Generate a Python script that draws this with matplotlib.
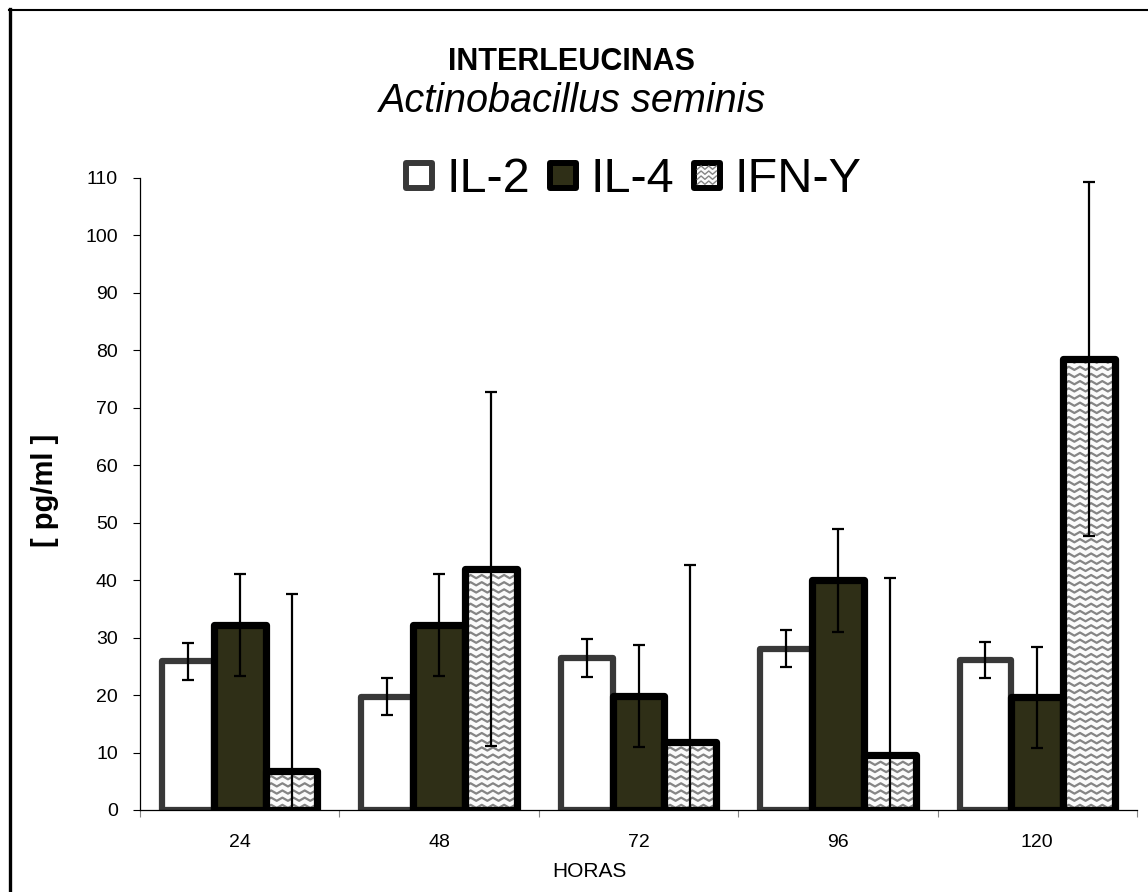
import numpy as np
import matplotlib.pyplot as plt
from matplotlib.patches import Rectangle
from matplotlib.collections import LineCollection
from matplotlib.lines import Line2D
from matplotlib.legend_handler import HandlerPatch

# data (pg/ml, mean and error bar half-length)
horas = ["24", "48", "72", "96", "120"]
series = ["IL-2", "IL-4", "IFN-Y"]
il2 = [25.85, 19.75, 26.5, 28.1, 26.1]
il2_err = [3.3, 3.3, 3.3, 3.2, 3.1]
il4 = [32.25, 32.25, 19.85, 39.95, 19.65]
il4_err = [8.9, 8.9, 8.9, 8.9, 8.8]
ifn = [6.8, 41.95, 11.8, 9.6, 78.5]
ifn_err = [30.8, 30.8, 30.8, 30.8, 30.8]

plt.rcParams["font.family"] = ["Liberation Sans", "DejaVu Sans"]

W, H = 1148, 892
IL4_COLOR = "#2f2f17"
WAVE_COLOR = "#858585"


def zigzag_segments(x0, x1, y0, y1, period, amp, gap):
    """Rows of zigzag lines covering a box (texture only)."""
    xs = np.arange(x0 - period, x1 + period, period / 2)
    sign = np.where(np.arange(len(xs)) % 2 == 0, -1.0, 1.0)
    segs = []
    for yc in np.arange(y0 + gap / 2, y1 + gap, gap):
        segs.append(np.column_stack([xs, yc + amp * sign]))
    return segs


class SquareHandler(HandlerPatch):
    def __init__(self, wave=False):
        super().__init__()
        self.wave = wave

    def create_artists(self, legend, orig_handle, xdescent, ydescent,
                       width, height, fontsize, trans):
        side = width
        x0 = -xdescent
        y0 = -ydescent + (height - side) / 2
        rect = Rectangle((x0, y0), side, side,
                         facecolor=orig_handle.get_facecolor(),
                         edgecolor=orig_handle.get_edgecolor(),
                         linewidth=orig_handle.get_linewidth(),
                         joinstyle="round", transform=trans)
        arts = [rect]
        if self.wave:
            lw = orig_handle.get_linewidth()
            ix0, ix1 = x0 + lw / 2, x0 + side - lw / 2
            iy0, iy1 = y0 + lw / 2, y0 + side - lw / 2
            for seg in zigzag_segments(ix0, ix1, iy0, iy1 - 2, 5.5, 1.2, 3.6):
                keep = (seg[:, 0] >= ix0) & (seg[:, 0] <= ix1)
                ln = Line2D(seg[keep, 0], seg[keep, 1], color=WAVE_COLOR,
                            lw=1.0, transform=trans)
                arts.append(ln)
        return arts


fig = plt.figure(figsize=(W / 100, H / 100), dpi=100)
ax = fig.add_axes([140 / W, 82 / H, 997 / W, 632 / H])

x = np.arange(len(horas))
width = 0.26

ax.bar(x - width, il2, width, color="white", edgecolor="#383838",
       linewidth=4.5, joinstyle="round", zorder=2)
ax.bar(x, il4, width, color=IL4_COLOR, edgecolor="black",
       linewidth=5.2, joinstyle="round", zorder=2.3)
ifn_bars = ax.bar(x + width, ifn, width, color="#fbfbfb", edgecolor="none",
                  zorder=2.5)
for patch in ifn_bars:
    px, py = patch.get_x(), patch.get_y()
    segs = zigzag_segments(px, px + patch.get_width(), py,
                           py + patch.get_height(), 0.056, 0.28, 1.25)
    lc = LineCollection(segs, colors=WAVE_COLOR, linewidths=1.6, zorder=2.6)
    ax.add_collection(lc)
    lc.set_clip_path(patch)
ax.bar(x + width, ifn, width, color="none", edgecolor="black",
       linewidth=5.2, joinstyle="round", zorder=2.7)

for off, vals, errs in [(-width, il2, il2_err), (0, il4, il4_err),
                        (width, ifn, ifn_err)]:
    ax.errorbar(x + off, vals, yerr=errs, fmt="none", ecolor="black",
                elinewidth=1.6, capsize=4.5, capthick=1.6, zorder=3)

ax.set_xlim(-0.5, len(horas) - 0.5)
ax.set_ylim(0, 110)
ax.set_yticks(np.arange(0, 111, 10))
ax.set_xticks(x)
ax.set_xticklabels(horas)
ax.set_xticks(np.arange(-0.5, len(horas), 1.0), minor=True)
ax.tick_params(axis="y", direction="out", length=5, width=0.8,
               labelsize=14, pad=11)
ax.tick_params(axis="x", which="major", length=0, labelsize=14, pad=17)
ax.tick_params(axis="x", which="minor", direction="out", length=5,
               width=0.8, color="#888888")
for side in ["top", "right"]:
    ax.spines[side].set_visible(False)
ax.spines["left"].set_linewidth(0.9)
ax.spines["bottom"].set_linewidth(0.9)

ax.set_ylabel("[ pg/ml ]", fontsize=21, fontweight="bold", va="center")
ax.yaxis.set_label_coords(-0.095, 0.506)
ax.set_xlabel("HORAS", fontsize=15, va="center")
ax.xaxis.set_label_coords(0.451, -0.098)

fig.text(572 / W, 1 - 62 / H, "INTERLEUCINAS", fontsize=22,
         fontweight="bold", ha="center", va="center")
fig.text(573 / W, 1 - 101 / H, "Actinobacillus seminis", fontsize=28.5,
         style="italic", ha="center", va="center")

handles = [
    Rectangle((0, 0), 1, 1, facecolor="white", edgecolor="#383838", linewidth=4.3),
    Rectangle((0, 0), 1, 1, facecolor=IL4_COLOR, edgecolor="black", linewidth=4.3),
    Rectangle((0, 0), 1, 1, facecolor="#fbfbfb", edgecolor="black", linewidth=4.3),
]
ax.legend(handles, series, loc="center", ncol=3, frameon=False,
          bbox_to_anchor=(634 / W, 1 - 180 / H), bbox_transform=fig.transFigure,
          fontsize=35, handlelength=0.52, handleheight=0.7,
          handletextpad=0.31, columnspacing=0.41, borderpad=0,
          handler_map={handles[0]: SquareHandler(), handles[1]: SquareHandler(),
                       handles[2]: SquareHandler(wave=True)})

# outer frame of the chart area (only left and top edges visible)
fig.add_artist(Line2D([10 / W, 10 / W], [0, 1 - 9 / H], transform=fig.transFigure,
                      color="black", lw=2.4))
fig.add_artist(Line2D([9 / W, 1], [1 - 9.5 / H, 1 - 9.5 / H],
                      transform=fig.transFigure, color="black", lw=1.5))

fig.savefig("out.png", dpi=100)
